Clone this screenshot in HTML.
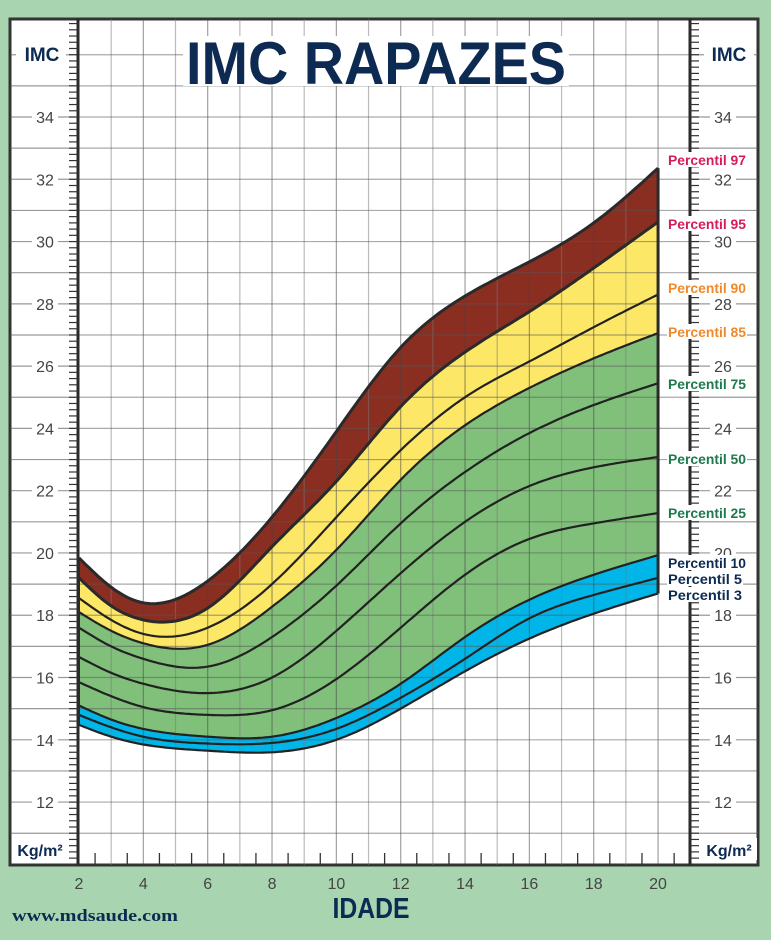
<!DOCTYPE html>
<html><head><meta charset="utf-8">
<style>
html,body{margin:0;padding:0;background:#a8d5b0;}
svg{display:block;}
</style></head>
<body>
<svg id="s" width="771" height="940" xmlns="http://www.w3.org/2000/svg" font-family="Liberation Sans, sans-serif">
<rect x="0" y="0" width="771" height="940" fill="#a8d5b0"/>
<rect x="10" y="19" width="748" height="846" fill="#fff" stroke="#333" stroke-width="3"/>
<g id="fills"></g>
<g id="grid"></g>
<g id="lines"></g>
<g id="axes"></g>
<rect x="183" y="36" width="386" height="50" fill="#fff"/>
<text x="376" y="84" text-anchor="middle" font-size="60" font-weight="bold" fill="#0d2a52" textLength="380" lengthAdjust="spacingAndGlyphs">IMC RAPAZES</text>
<g font-weight="bold" fill="#0d2a52">
<rect x="16" y="40" width="50" height="26" fill="#fff"/>
<text x="42" y="61" text-anchor="middle" font-size="19">IMC</text>
<rect x="704" y="40" width="50" height="26" fill="#fff"/>
<text x="729" y="61" text-anchor="middle" font-size="19">IMC</text>
<rect x="13" y="838" width="55" height="22" fill="#fff"/>
<text x="40" y="856" text-anchor="middle" font-size="16">Kg/m²</text>
<rect x="702" y="838" width="55" height="22" fill="#fff"/>
<text x="729" y="856" text-anchor="middle" font-size="16">Kg/m²</text>
<text x="371" y="918" text-anchor="middle" font-size="29" textLength="77" lengthAdjust="spacingAndGlyphs">IDADE</text>
<text x="12" y="921" font-size="17" font-family="Liberation Serif, serif" textLength="166" lengthAdjust="spacingAndGlyphs">www.mdsaude.com</text>
</g>
<g id="labels"></g>
</svg>
<script>
var NS="http://www.w3.org/2000/svg";
function X(a){return 79+(a-2)*32.17;}
function Y(v){return 117+(34-v)*31.14;}
var ages=[2,3,4,6,8,10,12,14,16,18,20];
var P={
p97:[19.84,18.9,18.4,19.1,21.15,23.9,26.6,28.25,29.35,30.6,32.36],
p95:[19.2,18.3,17.85,18.23,20.2,22.3,24.7,26.45,27.75,29.15,30.63],
p90:[18.55,17.85,17.4,17.6,19.0,21.15,23.3,25.0,26.15,27.25,28.3],
p85:[18.1,17.5,17.1,17.05,18.27,20.1,22.35,24.1,25.3,26.25,27.06],
p75:[17.6,17.0,16.6,16.35,17.3,18.95,20.95,22.6,23.85,24.75,25.45],
p50:[16.66,16.15,15.8,15.5,16.0,17.5,19.35,21.0,22.15,22.75,23.08],
p25:[15.85,15.4,15.05,14.8,14.95,15.95,17.6,19.3,20.45,20.95,21.28],
p10:[15.1,14.65,14.35,14.1,14.1,14.7,15.8,17.3,18.5,19.3,19.93],
p5:[14.8,14.4,14.1,13.88,13.9,14.35,15.35,16.6,17.9,18.65,19.2],
p3:[14.48,14.1,13.85,13.65,13.6,14.0,15.0,16.2,17.25,18.05,18.7]};
function spline(xs,ys){var n=xs.length,h=[],al=[],l=[1],mu=[0],z=[0],c=new Array(n).fill(0),b=[],d=[];
for(var i=0;i<n-1;i++)h[i]=xs[i+1]-xs[i];
for(i=1;i<n-1;i++)al[i]=3/h[i]*(ys[i+1]-ys[i])-3/h[i-1]*(ys[i]-ys[i-1]);
for(i=1;i<n-1;i++){l[i]=2*(xs[i+1]-xs[i-1])-h[i-1]*mu[i-1];mu[i]=h[i]/l[i];z[i]=(al[i]-h[i-1]*z[i-1])/l[i];}
for(var j=n-2;j>=0;j--){if(j>0)c[j]=z[j]-mu[j]*c[j+1];b[j]=(ys[j+1]-ys[j])/h[j]-h[j]*(c[j+1]+2*c[j])/3;d[j]=(c[j+1]-c[j])/(3*h[j]);}
return function(x){var k=0;while(k<n-2&&x>xs[k+1])k++;var dx=x-xs[k];return ys[k]+b[k]*dx+c[k]*dx*dx+d[k]*dx*dx*dx;};}
function pts(k){var f=spline(ages,P[k]),r=[];for(var a=2;a<=20.0001;a+=0.1)r.push([X(a).toFixed(1),Y(f(a)).toFixed(1)]);return r;}
function line(k){return "M"+pts(k).map(function(p){return p.join(",");}).join(" L");}
function band(a,b){var pa=pts(a),pb=pts(b).reverse();return "M"+pa.concat(pb).map(function(p){return p.join(",");}).join(" L")+"Z";}
function el(t,at,par){var e=document.createElementNS(NS,t);for(var k in at)e.setAttribute(k,at[k]);document.getElementById(par).appendChild(e);return e;}
el("path",{d:band("p97","p95"),fill:"#8a2e22"},"fills");
el("path",{d:band("p95","p85"),fill:"#fde767"},"fills");
el("path",{d:band("p85","p10"),fill:"#80c07a"},"fills");
el("path",{d:band("p10","p3"),fill:"#00b6e8"},"fills");
for(var a=3;a<=21;a++){el("line",{x1:X(a),y1:19,x2:X(a),y2:865,stroke:(a%2?"#777":"#444"),"stroke-width":1.2,"stroke-opacity":0.5},"grid");}
for(var v=10;v<=36;v++){var y=Y(v);if(y<20||y>864)continue;
el("line",{x1:78,y1:y,x2:690,y2:y,stroke:"#555","stroke-width":1.2,"stroke-opacity":0.5},"grid");
el("line",{x1:10,y1:y,x2:78,y2:y,stroke:"#555","stroke-width":1.2,"stroke-opacity":0.6},"grid");
el("line",{x1:690,y1:y,x2:758,y2:y,stroke:"#555","stroke-width":1.2,"stroke-opacity":0.6},"grid");}
["p97","p95"].forEach(function(k){el("path",{d:line(k),fill:"none",stroke:"#2a2a2a","stroke-width":3,"stroke-linejoin":"round"},"lines");});
["p90","p85","p75","p50","p25","p10","p5","p3"].forEach(function(k){el("path",{d:line(k),fill:"none",stroke:"#222","stroke-width":2.2,"stroke-linejoin":"round"},"lines");});
el("line",{x1:X(20),y1:Y(32.36),x2:X(20),y2:Y(18.7),stroke:"#2a2a2a","stroke-width":3},"lines");
el("line",{x1:X(2),y1:Y(19.84),x2:X(2),y2:Y(14.48),stroke:"#2a2a2a","stroke-width":2},"lines");
el("line",{x1:78,y1:19,x2:78,y2:865,stroke:"#2a2a2a","stroke-width":3},"axes");
el("line",{x1:690,y1:19,x2:690,y2:865,stroke:"#2a2a2a","stroke-width":3},"axes");
for(var t=100;t<=372;t+=2){var vv=t/10;var yy=Y(vv);if(yy<22||yy>862)continue;
el("line",{x1:69,y1:yy,x2:78,y2:yy,stroke:"#333","stroke-width":1.2},"axes");
el("line",{x1:690,y1:yy,x2:699,y2:yy,stroke:"#333","stroke-width":1.2},"axes");}
for(var h=2.5;h<21;h+=1){el("line",{x1:X(h),y1:853,x2:X(h),y2:865,stroke:"#333","stroke-width":1.3},"axes");}
for(var v=12;v<=34;v+=2){var y=Y(v);
el("rect",{x:32,y:y-9,width:26,height:18,fill:"#fff"},"axes");
var t1=el("text",{x:45,y:y+6,"text-anchor":"middle","font-size":16,fill:"#444"},"axes");t1.textContent=v;
el("rect",{x:710,y:y-9,width:26,height:18,fill:"#fff"},"axes");
var t2=el("text",{x:723,y:y+6,"text-anchor":"middle","font-size":16,fill:"#444"},"axes");t2.textContent=v;}
for(var a=2;a<=20;a+=2){var tx=el("text",{x:X(a),y:889,"text-anchor":"middle","font-size":16,fill:"#444"},"axes");tx.textContent=a;}
var L=[["Percentil 97",160,"#d41d57"],["Percentil 95",224,"#d41d57"],["Percentil 90",288,"#ee8a2b"],["Percentil 85",332,"#ee8a2b"],["Percentil 75",384,"#1d7a4c"],["Percentil 50",459,"#1d7a4c"],["Percentil 25",513,"#1d7a4c"],["Percentil 10",563,"#0d2a52"],["Percentil 5",579,"#0d2a52"],["Percentil 3",595,"#0d2a52"]];
L.forEach(function(l){var w=l[0].length>11?80:(l[0].length>10?76:70);
el("rect",{x:667,y:l[1]-8,width:w,height:15,fill:"#fff"},"labels");
var t=el("text",{x:668,y:l[1]+5,"font-size":13.5,"font-weight":"bold",fill:l[2],textLength:w-2,lengthAdjust:"spacingAndGlyphs"},"labels");t.textContent=l[0];});
</script>
</body></html>
